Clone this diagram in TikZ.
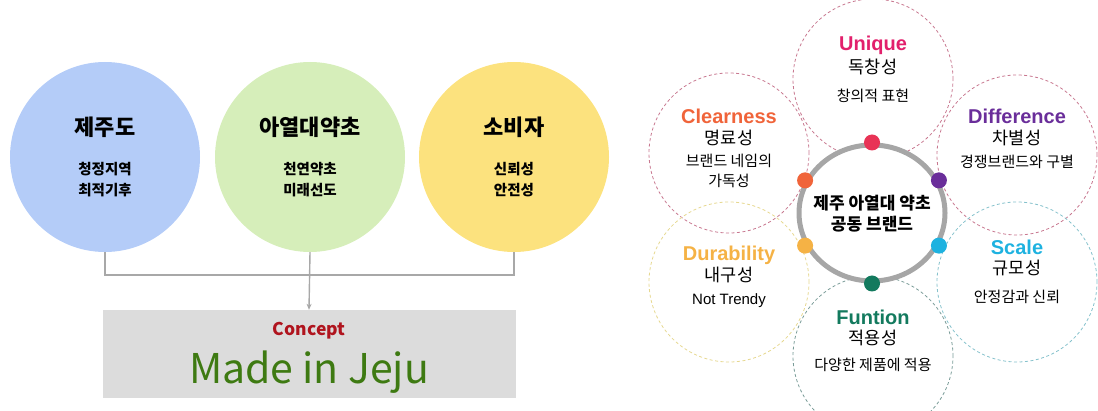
\documentclass[tikz,border=0pt]{standalone}
\usepackage{fontspec}
\setmainfont{Noto Sans CJK KR}
\newfontfamily\latin{Liberation Sans}
\usetikzlibrary{arrows.meta,positioning,shapes.geometric}

\definecolor{cblue}{HTML}{B4CCF8}
\definecolor{cgreen}{HTML}{D6EEBA}
\definecolor{cyellow}{HTML}{FCE27E}
\definecolor{linegray}{HTML}{A8A8A8}
\definecolor{boxgray}{HTML}{DCDCDC}
\definecolor{conred}{HTML}{B0141E}
\definecolor{jejugreen}{HTML}{3E7A12}
\definecolor{ringgray}{HTML}{A6A6A6}
\definecolor{cuniq}{HTML}{E2206C}
\definecolor{cclear}{HTML}{F0643A}
\definecolor{cdiff}{HTML}{6A2E9A}
\definecolor{cdura}{HTML}{F5B245}
\definecolor{cscale}{HTML}{1EB2E0}
\definecolor{cfun}{HTML}{137A5E}
\definecolor{dpink}{HTML}{C87890}
\definecolor{dyellow}{HTML}{E6D890}
\definecolor{dcyan}{HTML}{86C2CC}
\definecolor{dteal}{HTML}{7A9C98}

\begin{document}
\begin{tikzpicture}[
  x=1pt, y=-1pt, >=Stealth,
  bigc/.style={circle, minimum size=190pt, inner sep=0pt, align=center},
  bigt/.style={font=\bfseries\fontsize{22}{26}\selectfont},
  bigs/.style={font=\bfseries\fontsize{14.5}{21}\selectfont, align=center, inner sep=0pt},
  dcirc/.style={circle, draw, dashed, dash pattern=on 3pt off 2.5pt, line width=0.8pt, minimum size=160pt, inner sep=0pt},
  ttl/.style={font=\latin\bfseries\fontsize{20}{22}\selectfont, inner sep=0pt},
  kname/.style={font=\fontsize{17.5}{19}\selectfont, inner sep=0pt},
  ksub/.style={font=\fontsize{15}{20}\selectfont, inner sep=0pt, align=center},
  dot/.style={circle, minimum size=16pt, inner sep=0pt},
  conn/.style={draw=linegray, line width=1.8pt}
]
  \useasboundingbox (0,0) rectangle (1098,411);
  \clip (0,0) rectangle (1098,411);

  % left side
  \node[bigc, fill=cblue] (jeju) at (105,157) {};
  \node[bigc, fill=cgreen] (herb) at (310,157) {};
  \node[bigc, fill=cyellow] (cons) at (514,157) {};
  \node[bigt] (jejut) at (105,127) {제주도};
  \node[bigt] (herbt) at (310,127) {아열대약초};
  \node[bigt] (const) at (514,127) {소비자};
  \node[bigs] (jejus) at (105,180) {청정지역\\최적기후};
  \node[bigs] (herbs) at (310,180) {천연약초\\미래선도};
  \node[bigs] (conss) at (514,180) {신뢰성\\안전성};

  \node[fill=boxgray, minimum width=413pt, minimum height=88pt, inner sep=0pt] (concept) at (309,354) {};
  \node[font=\bfseries\fontsize{17.5}{20}\selectfont, text=conred] (conlbl) at (309,331) {Concept};
  \node[font=\fontsize{41}{46}\selectfont, text=jejugreen] (jejulbl) at (309,372) {Made in Jeju};

  \coordinate (bar) at (0,275);
  \draw[conn] (jeju.south) -- (jeju.south |- bar) -- (cons.south |- bar) -- (cons.south);
  \draw[conn, -{Stealth[length=6pt,width=5pt]}, line width=1.4pt] (herb.south) -- (concept.north);

  % right side
  \node[dcirc, draw=dpink] (uniq) at (873,79) {};
  \node[dcirc, draw=dpink] (clear) at (729,153) {};
  \node[dcirc, draw=dpink] (diff) at (1017,155) {};
  \node[dcirc, draw=dyellow] (dura) at (729,282) {};
  \node[dcirc, draw=dcyan] (scale) at (1017,282) {};
  \node[dcirc, draw=dteal] (fun) at (873,356) {};

  \node[ellipse, draw=ringgray, fill=white, line width=5pt, minimum width=146pt, minimum height=136pt, inner sep=0pt] (core) at (872,213) {};
  \node[align=center, font=\bfseries\fontsize{17}{21}\selectfont] (coret) at (872,214) {제주 아열대 약초\\공동 브랜드};

  \foreach \a/\c in {90/cuniq!80!orange, 154/cclear, 26/cdiff, 206/cdura, 334/cscale, 270/cfun}
    \node[dot, fill=\c] (dot\a) at (core.\a) {};

  \node[ttl, text=cuniq] (uniqt) at (873,45) {Unique};
  \node[kname] (uniqk) at (873,67) {독창성};
  \node[ksub] (uniqs) at (873,96) {창의적 표현};

  \node[ttl, text=cclear] (cleart) at (729,116) {Clearness};
  \node[kname] (cleark) at (729,138) {명료성};
  \node[ksub] (clears) at (729,171) {브랜드 네임의\\가독성};

  \node[ttl, text=cdiff] (difft) at (1017,116) {Difference};
  \node[kname] (diffk) at (1017,138) {차별성};
  \node[ksub] (diffs) at (1017,162) {경쟁브랜드와 구별};

  \node[ttl, text=cdura] (durat) at (729,255) {Durability};
  \node[kname] (durak) at (729,275) {내구성};
  \node[ksub, font=\latin\fontsize{15}{18}\selectfont] (duras) at (729,301) {Not Trendy};

  \node[ttl, text=cscale] (scalet) at (1017,247) {Scale};
  \node[kname] (scalek) at (1017,268) {규모성};
  \node[ksub] (scales) at (1017,297) {안정감과 신뢰};

  \node[ttl, text=cfun] (funt) at (873,317) {Funtion};
  \node[kname] (funk) at (873,338) {적용성};
  \node[ksub] (funs) at (873,365) {다양한 제품에 적용};
\end{tikzpicture}
\end{document}
